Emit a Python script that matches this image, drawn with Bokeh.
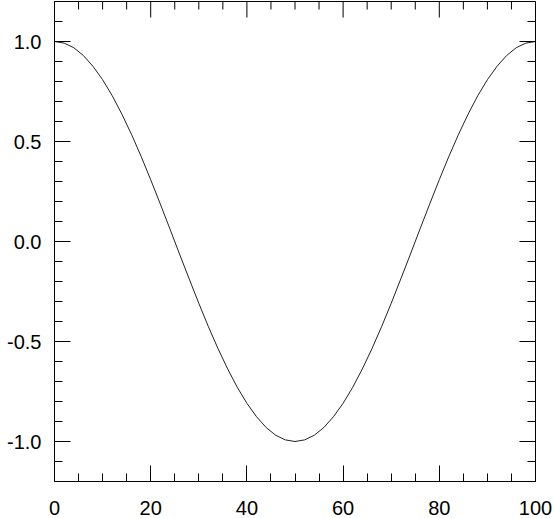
from bokeh.plotting import figure
from bokeh.models import FixedTicker, LinearAxis, PrintfTickFormatter, Range1d
from bokeh.embed import file_html
from bokeh.resources import INLINE

x_vals = [0, 2, 4, 6, 8, 10, 12, 14, 16, 18, 20, 22, 24, 26, 28, 30, 32, 34, 36, 38, 40,
          42, 44, 46, 48, 50, 52, 54, 56, 58, 60, 62, 64, 66, 68, 70, 72, 74, 76, 78, 80,
          82, 84, 86, 88, 90, 92, 94, 96, 98, 100]
y_vals = [1.000, 0.992, 0.969, 0.930, 0.876, 0.809, 0.729, 0.637, 0.536, 0.426, 0.309,
          0.187, 0.063, -0.063, -0.187, -0.309, -0.426, -0.536, -0.637, -0.729, -0.809,
          -0.876, -0.930, -0.969, -0.992, -1.000, -0.992, -0.969, -0.930, -0.876, -0.809,
          -0.729, -0.637, -0.536, -0.426, -0.309, -0.187, -0.063, 0.063, 0.187, 0.309,
          0.426, 0.536, 0.637, 0.729, 0.809, 0.876, 0.930, 0.969, 0.992, 1.000]

x_major = [0, 20, 40, 60, 80, 100]
x_minor = [i * 5 for i in range(21)]
y_major = [-1.0, -0.5, 0.0, 0.5, 1.0]
y_minor = [round(-1.2 + 0.1 * i, 1) for i in range(25)]

X0, X1 = 0, 100
Y0, Y1 = -1.2, 1.2
FW, FH = 481, 480
MAJ, MIN = 16, 8

FONT = "Liberation Sans"

p = figure(width=54 + FW + 18, height=1 + FH + 33, frame_width=FW, frame_height=FH,
           x_range=Range1d(X0, X1), y_range=Range1d(Y0, Y1),
           output_backend="svg", toolbar_location=None,
           min_border_left=54, min_border_right=18, min_border_top=1, min_border_bottom=33,
           x_axis_location=None, y_axis_location=None)
p.grid.visible = False
p.outline_line_color = "black"
p.outline_line_width = 1
p.background_fill_color = "white"
p.border_fill_color = "white"

p.line(x_vals, y_vals, line_color="#222222", line_width=1)

def style(ax, ticks, minor, fmt):
    ax.ticker = FixedTicker(ticks=ticks, minor_ticks=minor)
    ax.axis_line_color = "black"
    ax.major_tick_line_color = "black"
    ax.minor_tick_line_color = "black"
    ax.major_tick_in = MAJ
    ax.major_tick_out = 0
    ax.minor_tick_in = MIN
    ax.minor_tick_out = 0
    ax.formatter = PrintfTickFormatter(format=fmt)
    ax.major_label_text_font = FONT
    ax.major_label_text_font_size = "20px"
    ax.major_label_text_color = "black"

bx = LinearAxis()
style(bx, x_major, x_minor, "%.0f")
bx.major_label_standoff = 19
p.add_layout(bx, "below")

ly = LinearAxis()
style(ly, y_major, y_minor, "%.1f")
ly.major_label_standoff = 13
p.add_layout(ly, "left")

# mirrored inward ticks on top and right edges
dy_per_px = (Y1 - Y0) / FH
dx_per_px = (X1 - X0) / FW
x_minor_only = [t for t in x_minor if t not in x_major]
y_minor_only = [t for t in y_minor if all(abs(t - m) > 1e-9 for m in y_major)]

p.segment(x0=x_major, y0=[Y1] * len(x_major), x1=x_major,
          y1=[Y1 - MAJ * dy_per_px] * len(x_major), line_color="black", line_width=1)
p.segment(x0=x_minor_only, y0=[Y1] * len(x_minor_only), x1=x_minor_only,
          y1=[Y1 - MIN * dy_per_px] * len(x_minor_only), line_color="black", line_width=1)
p.segment(x0=[X1] * len(y_major), y0=y_major, x1=[X1 - MAJ * dx_per_px] * len(y_major),
          y1=y_major, line_color="black", line_width=1)
p.segment(x0=[X1] * len(y_minor_only), y0=y_minor_only,
          x1=[X1 - MIN * dx_per_px] * len(y_minor_only), y1=y_minor_only,
          line_color="black", line_width=1)

open("out.html", "w").write(file_html(p, INLINE))
